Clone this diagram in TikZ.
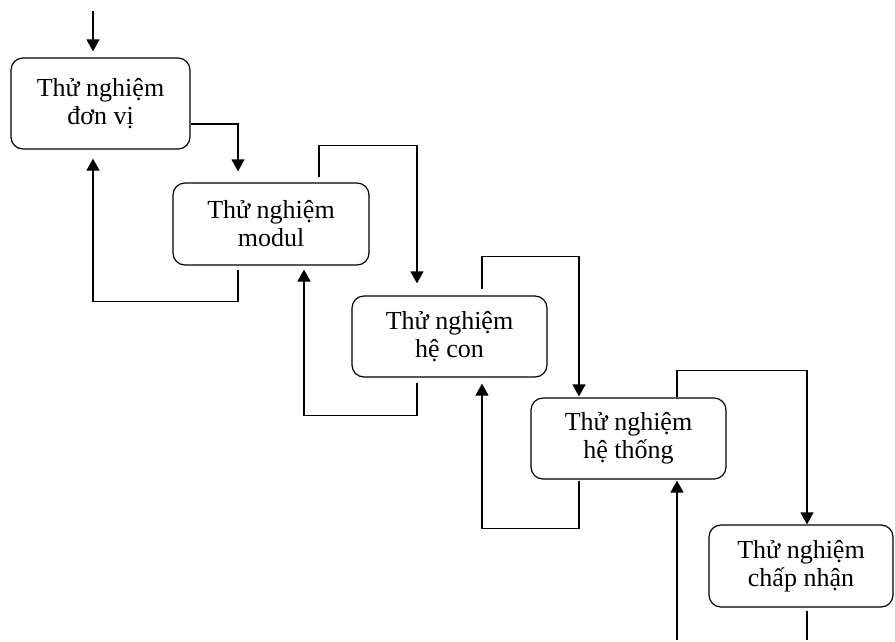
\documentclass[tikz,border=0pt]{standalone}
\usepackage{fontspec}
\setmainfont{Liberation Serif}
\usetikzlibrary{arrows.meta,calc}
\begin{document}
\begin{tikzpicture}[x=1pt,y=-1pt,
  stage/.style={draw, line width=1.2pt, rounded corners=12pt, inner sep=0pt,
    align=center, font=\fontsize{26}{28}\selectfont},
  link/.style={line width=1.2pt},
  arr/.style={link, -{Triangle[length=12pt,width=13pt]}}]
\useasboundingbox (0,0) rectangle (895,641);

% test stages
\node[stage, minimum width=179pt, minimum height=91pt] (b1) at (100.5,103.5) {Thử nghiệm\\đơn vị};
\node[stage, minimum width=196pt, minimum height=82pt] (b2) at (271,224) {Thử nghiệm\\modul};
\node[stage, minimum width=195pt, minimum height=81pt] (b3) at (449.5,336.5) {Thử nghiệm\\hệ con};
\node[stage, minimum width=195pt, minimum height=81pt] (b4) at (628.5,438.5) {Thử nghiệm\\hệ thống};
\node[stage, minimum width=184pt, minimum height=82pt] (b5) at (801,566) {Thử nghiệm\\chấp nhận};

% free ends
\coordinate (in) at (93,11);
\coordinate (out) at (807,640);
\coordinate (back) at (677,640);

% entry
\draw[arr, shorten >=6pt] (in) -- (in |- b1.north);

% forward steps
\draw[arr, shorten >=11pt] ($(b1.east)+(0,20.5)$) -| ($(b2.north)+(-33,0)$);
\draw[arr, shorten <=5pt, shorten >=12pt] ($(b2.north)+(48,0)$) -- ++(0,-37) -| ($(b3.north)+(-32.5,0)$);
\draw[arr, shorten <=6pt, shorten >=1pt] ($(b3.north)+(32.5,0)$) -- ++(0,-39) -| ($(b4.north)+(-49.5,0)$);
\draw[arr] ($(b4.north)+(48.5,0)$) -- ++(0,-27) -| ($(b5.north)+(6,0)$);

% feedback loops
\draw[arr, shorten <=4pt, shorten >=9pt] ($(b2.south)+(-33,0)$) -- ++(0,36) -| ($(b1.south)+(-7.5,0)$);
\draw[arr, shorten <=5pt, shorten >=4pt] ($(b3.south)+(-32.5,0)$) -- ++(0,38) -| ($(b2.south)+(33,0)$);
\draw[arr, shorten <=1pt, shorten >=6pt] ($(b4.south)+(-49.5,0)$) -- ++(0,49) -| ($(b3.south)+(32.5,0)$);
\draw[arr, shorten >=1pt] (back) -- ($(b4.south)+(48.5,0)$);

% exit
\draw[link, shorten <=3pt] ($(b5.south)+(6,0)$) -- (out);
\end{tikzpicture}
\end{document}
